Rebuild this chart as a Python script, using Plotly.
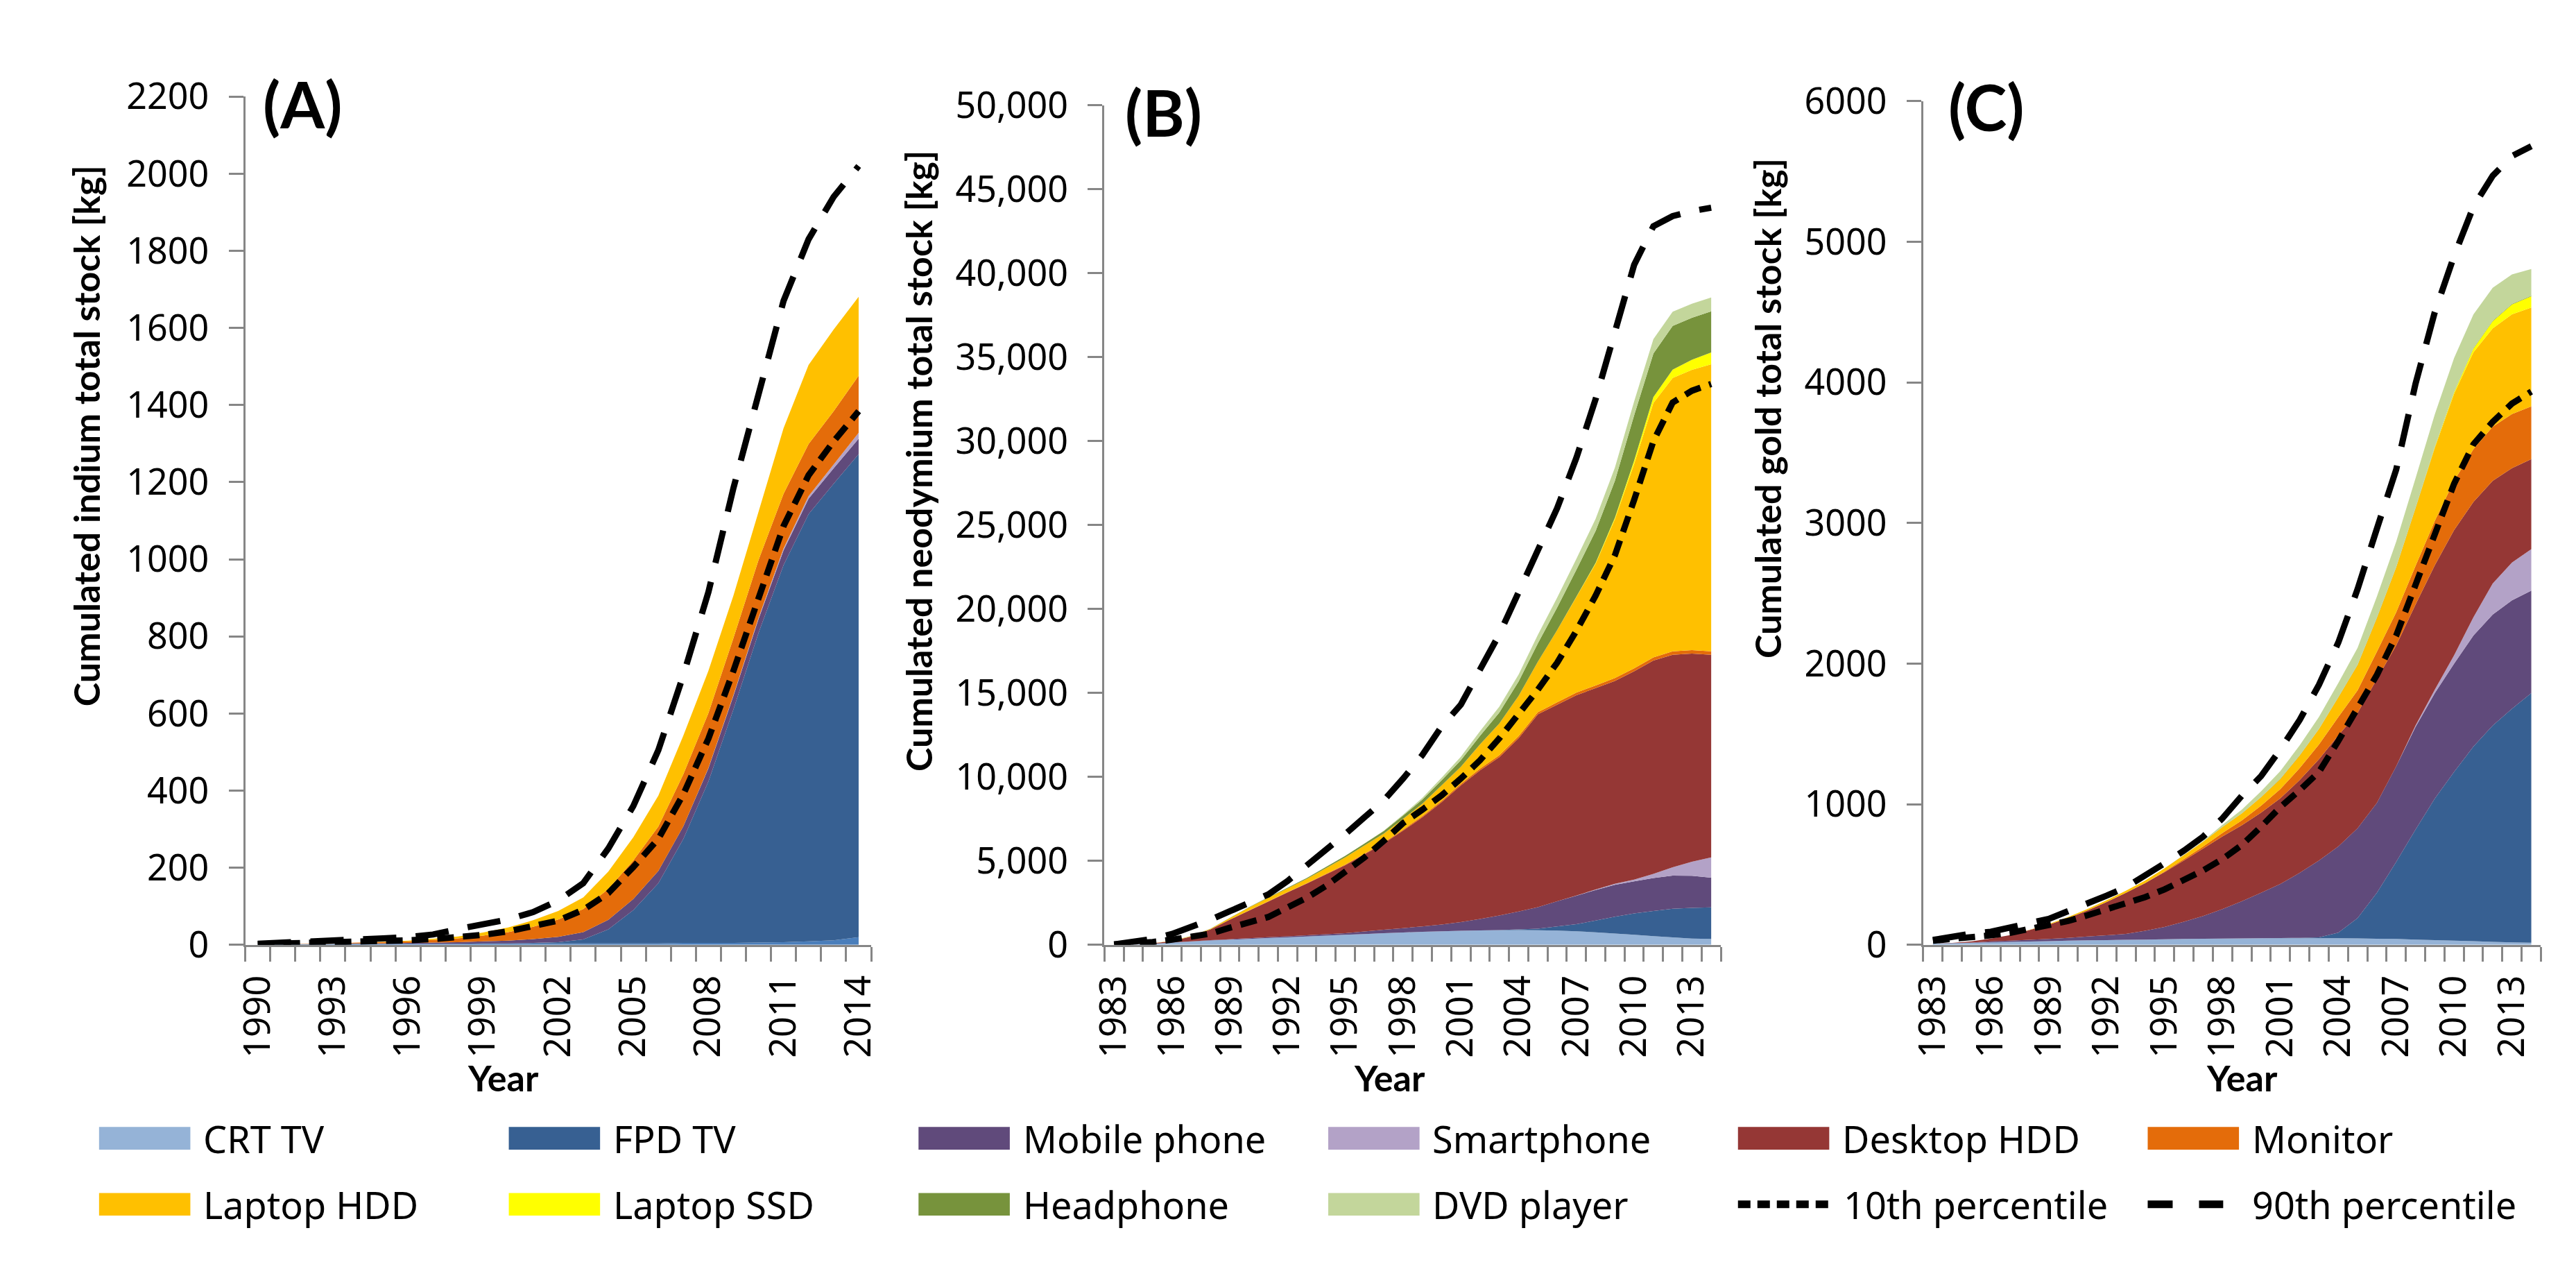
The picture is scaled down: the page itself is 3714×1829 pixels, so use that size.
import plotly.graph_objects as go
from plotly.subplots import make_subplots

# ---------------- data ----------------
years_in = list(range(1990, 2015))
years_nd = list(range(1983, 2015))
years_au = list(range(1983, 2015))

categories = ["CRT TV", "FPD TV", "Mobile phone", "Smartphone", "Desktop HDD",
              "Monitor", "Laptop HDD", "Laptop SSD", "Headphone", "DVD player"]
colors = ["#95B3D7", "#376092", "#604A7B", "#B3A2C7", "#953735",
          "#E46C0A", "#FFC000", "#FFFF00", "#77933C", "#C3D69B"]
percentiles = ["10th percentile", "90th percentile"]

# (A) indium [kg], 1990-2014
indium_crt = [2, 2, 2, 3, 3, 3, 3, 3, 3, 4, 4, 4, 4, 4, 4, 4, 4, 5, 5, 5, 6, 7, 9, 12, 20]
indium_fpd = [0, 0, 0, 0, 0, 0, 0, 0, 0, 0, 0, 1, 3, 10, 36, 86, 156, 270, 419, 606, 803, 978, 1108, 1184, 1253]
indium_mobile = [0, 0, 0, 0, 1, 1, 2, 3, 4, 5, 7, 10, 14, 19, 25, 29, 32, 33, 34, 35, 36, 38, 40, 40, 40]
indium_smart = [0, 0, 0, 0, 0, 0, 0, 0, 0, 0, 0, 0, 0, 0, 0, 0, 0, 0, 1, 2, 3, 5, 7, 10, 15]
indium_monitor = [0, 0, 1, 1, 2, 3, 4, 7, 10, 15, 22, 32, 45, 60, 80, 100, 115, 135, 142, 148, 150, 142, 135, 138, 148]
indium_laptop_hdd = [0, 0, 0, 0, 0, 1, 2, 3, 5, 8, 12, 17, 22, 30, 45, 60, 80, 100, 110, 110, 125, 170, 205, 212, 205]
indium_p10 = [2, 3, 4, 5, 7, 9, 12, 15, 20, 26, 35, 48, 63, 91, 134, 202, 275, 391, 535, 711, 899, 1086, 1218, 1306, 1384]
indium_p90 = [3, 5, 7, 10, 14, 17, 20, 27, 41, 55, 66, 85, 115, 160, 250, 360, 505, 700, 915, 1185, 1420, 1670, 1830, 1940, 2020]

# (B) neodymium [kg], 1983-2014
nd_crt = [0, 20, 60, 140, 200, 260, 310, 360, 410, 450, 500, 550, 600, 650, 700, 740,
          780, 810, 840, 860, 875, 880, 870, 850, 810, 750, 680, 600, 520, 450, 380, 355]
nd_fpd = [0, 0, 0, 0, 0, 0, 0, 0, 0, 0, 0, 0, 0, 0, 0, 0,
          0, 0, 0, 0, 10, 40, 100, 250, 420, 700, 1000, 1270, 1500, 1700, 1820, 1880]
nd_mobile = [0, 0, 5, 10, 15, 20, 30, 40, 50, 60, 70, 85, 100, 150, 200, 260,
             320, 400, 520, 680, 860, 1065, 1280, 1500, 1700, 1820, 1900, 1920, 1960, 1975, 1920, 1770]
nd_smart = [0, 0, 0, 0, 0, 0, 0, 0, 0, 0, 0, 0, 0, 0, 0, 0,
            0, 0, 0, 0, 0, 0, 0, 0, 10, 30, 60, 100, 250, 500, 830, 1210]
nd_desktop = [0, 10, 35, 70, 285, 640, 1160, 1640, 2120, 2610, 3080, 3565, 4050, 4600, 5150, 5800,
              6500, 7290, 8140, 8860, 9435, 10325, 11480, 11700, 11930, 11990, 12080, 12400, 12700, 12655, 12400, 12065]
nd_monitor = [0, 0, 0, 0, 0, 0, 0, 10, 15, 20, 25, 30, 35, 40, 50, 60,
              70, 80, 90, 100, 110, 120, 130, 140, 150, 160, 170, 180, 190, 200, 200, 200]
nd_laptop_hdd = [0, 0, 0, 20, 25, 30, 90, 180, 205, 225, 255, 340, 425, 480, 530, 640,
                 730, 920, 1010, 1450, 1900, 2400, 3000, 4300, 5700, 7250, 9450, 12170, 15150, 16280, 16700, 17100]
nd_laptop_ssd = [0, 0, 0, 0, 0, 0, 0, 0, 0, 0, 0, 0, 0, 0, 0, 0,
                 0, 0, 0, 0, 0, 0, 0, 0, 20, 50, 100, 200, 350, 500, 600, 700]
nd_headphone = [0, 0, 0, 0, 5, 10, 15, 20, 30, 40, 55, 70, 90, 120, 150, 200,
                250, 300, 400, 500, 650, 850, 1100, 1350, 1600, 1900, 2200, 2700, 2600, 2600, 2500, 2450]
nd_dvd = [0, 0, 0, 0, 0, 0, 0, 0, 0, 0, 0, 0, 0, 0, 20, 50,
          100, 150, 200, 280, 350, 420, 500, 580, 650, 720, 780, 830, 850, 850, 830, 820]
nd_p10 = [30, 70, 170, 310, 450, 670, 1020, 1300, 1660, 2230, 2800, 3510, 4360, 5210, 6200, 7250,
          8050, 8900, 9900, 11000, 12300, 13700, 15200, 16800, 18700, 20800, 23200, 26500, 30000, 32300, 33000, 33400]
nd_p90 = [30, 150, 350, 650, 1050, 1500, 2000, 2500, 3000, 3800, 4700, 5600, 6600, 7600, 8600, 9900,
          11300, 13000, 14300, 16400, 18500, 21000, 23500, 26000, 29000, 32500, 36500, 40500, 42800, 43400, 43700, 43900]

# (C) gold [kg], 1983-2014
au_crt = [10, 12, 15, 18, 21, 24, 27, 30, 32, 34, 36, 38, 40, 42, 44, 45,
          46, 47, 48, 48, 48, 47, 46, 44, 42, 38, 34, 30, 26, 22, 18, 15]
au_fpd = [0, 0, 0, 0, 0, 0, 0, 0, 0, 0, 0, 0, 0, 0, 0, 0,
          0, 0, 1, 2, 5, 40, 144, 326, 548, 782, 1006, 1200, 1384, 1538, 1662, 1775]
au_mobile = [0, 1, 2, 7, 9, 12, 15, 20, 28, 34, 42, 62, 87, 123, 161, 210,
             264, 323, 384, 462, 547, 613, 640, 640, 680, 730, 750, 770, 790, 790, 770, 730]
au_smart = [0, 0, 0, 0, 0, 0, 0, 0, 0, 0, 0, 0, 0, 0, 0, 0,
            0, 0, 0, 0, 0, 0, 0, 0, 0, 10, 25, 60, 130, 220, 270, 294]
au_desktop = [0, 1, 8, 20, 40, 69, 102, 140, 185, 237, 292, 340, 390, 435, 480, 516,
              540, 570, 610, 660, 720, 790, 820, 880, 860, 860, 885, 890, 820, 730, 670, 641]
au_monitor = [0, 0, 0, 0, 0, 0, 0, 0, 0, 0, 0, 0, 5, 10, 15, 25,
              35, 50, 65, 85, 105, 130, 160, 195, 235, 275, 315, 350, 375, 385, 385, 375]
au_laptop_hdd = [0, 0, 0, 0, 0, 2, 5, 8, 10, 12, 15, 18, 22, 28, 34, 42,
                 50, 60, 72, 90, 110, 140, 180, 240, 320, 410, 520, 620, 690, 700, 710, 703]
au_laptop_ssd = [0, 0, 0, 0, 0, 0, 0, 0, 0, 0, 0, 0, 0, 0, 0, 0,
                 0, 0, 0, 0, 0, 0, 0, 0, 0, 0, 5, 10, 25, 50, 70, 80]
au_headphone = [0, 0, 0, 0, 0, 0, 0, 0, 0, 0, 0, 0, 1, 1, 1, 1,
                1, 2, 2, 2, 2, 2, 3, 3, 3, 3, 3, 4, 4, 4, 4, 4]
au_dvd = [0, 0, 0, 0, 0, 0, 0, 0, 0, 0, 0, 0, 0, 0, 5, 15,
          25, 40, 55, 70, 85, 100, 120, 150, 180, 210, 230, 240, 240, 235, 210, 190]
au_p10 = [30, 40, 55, 68, 85, 110, 140, 170, 210, 250, 290, 340, 395, 460, 530, 610,
          710, 840, 980, 1100, 1230, 1450, 1680, 1920, 2200, 2550, 2900, 3280, 3560, 3720, 3850, 3935]
au_p90 = [35, 60, 80, 93, 120, 150, 185, 240, 290, 350, 410, 490, 580, 670, 770, 900,
          1060, 1200, 1390, 1600, 1850, 2150, 2530, 2960, 3380, 3990, 4500, 4900, 5250, 5470, 5610, 5680]

# ---------------- layout constants ----------------
FIG_W, FIG_H = 3714, 1829
GREY = "#868686"
TICK_FONT = dict(family="Noto Sans", size=52, color="black")
BOLD_FONT = "Lato"
P10_DASH = "24px,13px"
P90_DASH = "48px,28px"

panels = [
    dict(
        years=years_in,
        stacks=[indium_crt, indium_fpd, indium_mobile, indium_smart, None,
                indium_monitor, indium_laptop_hdd, None, None, None],
        p10=indium_p10, p90=indium_p90,
        ymax=2200, dtick=200, tickformat="d",
        xdomain=[324 / FIG_W, 1236 / FIG_W], ytop=97,
        title="Cumulated indium total stock [kg]", title_x=92, title_y=1320,
        letter="(A)", letter_x=348, letter_y=108, year_x=1999.8,
    ),
    dict(
        years=years_nd,
        stacks=[nd_crt, nd_fpd, nd_mobile, nd_smart, nd_desktop,
                nd_monitor, nd_laptop_hdd, nd_laptop_ssd, nd_headphone, nd_dvd],
        p10=nd_p10, p90=nd_p90,
        ymax=50000, dtick=5000, tickformat=",d",
        xdomain=[1576 / FIG_W, 2474 / FIG_W], ytop=110,
        title="Cumulated neodymium total stock [kg]", title_x=1305, title_y=28800,
        letter="(B)", letter_x=1604, letter_y=120, year_x=1997.3,
    ),
    dict(
        years=years_au,
        stacks=[au_crt, au_fpd, au_mobile, au_smart, au_desktop,
                au_monitor, au_laptop_hdd, au_laptop_ssd, au_headphone, au_dvd],
        p10=au_p10, p90=au_p90,
        ymax=6000, dtick=1000, tickformat="d",
        xdomain=[2769 / FIG_W, 3669 / FIG_W], ytop=104,
        title="Cumulated gold total stock [kg]", title_x=2541, title_y=3815,
        letter="(C)", letter_x=2803, letter_y=112, year_x=1999,
    ),
]

fig = make_subplots(rows=1, cols=3)

for k, panel in enumerate(panels):
    col = k + 1
    years = panel["years"]
    for ix, values in enumerate(panel["stacks"]):
        if values is None:
            continue
        color = colors[ix]
        # the bottom band of (A) is drawn in a mid blue in the original
        if k == 0 and ix == 0:
            color = "#4A7EBB"
        fig.add_trace(
            go.Scatter(
                x=years, y=values, name=categories[ix],
                stackgroup=f"stock{k}", mode="none", fillcolor=color,
            ),
            row=1, col=col,
        )
    fig.add_trace(
        go.Scatter(x=years, y=panel["p10"], name=percentiles[0], mode="lines",
                   line=dict(color="black", width=9, dash=P10_DASH)),
        row=1, col=col,
    )
    fig.add_trace(
        go.Scatter(x=years, y=panel["p90"], name=percentiles[1], mode="lines",
                   line=dict(color="black", width=9, dash=P90_DASH)),
        row=1, col=col,
    )

    fig.update_xaxes(
        domain=panel["xdomain"],
        range=[years[0] - 0.5, years[-1] + 0.5],
        tickmode="linear", tick0=years[0], dtick=3, tickformat="d",
        ticks="", tickangle=-90, ticklabelstandoff=20,
        tickfont=TICK_FONT,
        showline=True, linecolor=GREY, linewidth=3,
        showgrid=False, zeroline=False,
        minor=dict(tickmode="linear", tick0=years[0] - 0.5, dtick=1,
                   ticks="outside", ticklen=21, tickwidth=3, tickcolor=GREY,
                   showgrid=False),
        row=1, col=col,
    )
    fig.update_yaxes(
        domain=[1 - 1369 / FIG_H, 1 - panel["ytop"] / FIG_H],
        range=[0, panel["ymax"]], tickmode="linear", tick0=0, dtick=panel["dtick"],
        tickformat=panel["tickformat"],
        ticks="outside", ticklen=21, tickwidth=3, tickcolor=GREY,
        ticklabelstandoff=18, tickfont=TICK_FONT,
        showline=True, linecolor=GREY, linewidth=3,
        showgrid=False, zeroline=False,
        row=1, col=col,
    )

    yref = "y" if k == 0 else f"y{col}"
    xref = "x" if k == 0 else f"x{col}"
    fig.add_annotation(
        text=panel["title"], textangle=-90, showarrow=False,
        xref="paper", yref=yref, x=panel["title_x"] / FIG_W, y=panel["title_y"],
        xanchor="center", yanchor="middle",
        font=dict(family=BOLD_FONT, size=52, color="black", weight="bold"),
    )
    fig.add_annotation(
        text=panel["letter"], showarrow=False,
        xref="paper", yref="paper",
        x=panel["letter_x"] / FIG_W, y=1 - panel["letter_y"] / FIG_H,
        xanchor="left", yanchor="middle",
        font=dict(family=BOLD_FONT, size=92, color="black", weight="bold"),
    )
    fig.add_annotation(
        text="Year", showarrow=False,
        xref=xref, yref="paper", x=panel["year_x"], y=1 - 1568 / FIG_H,
        xanchor="center", yanchor="middle",
        font=dict(family=BOLD_FONT, size=52, color="black", weight="bold"),
    )

# ---------------- legend: 2 rows x 6 columns below the panels ----------------
legend_items = [(name, color, None) for name, color in zip(categories, colors)]
legend_items += [(percentiles[0], "black", "18px,10px"), (percentiles[1], "black", "36px,38px")]
col_left = [111 + 597 * c for c in range(6)]
row_mid = [1659, 1758]
for i, (name, color, dash) in enumerate(legend_items):
    left = col_left[i % 6]
    mid = row_mid[i // 6]
    if dash is None:
        fig.add_shape(
            type="rect", xref="paper", yref="paper",
            x0=left / FIG_W, x1=(left + 133) / FIG_W,
            y0=1 - (mid + 17) / FIG_H, y1=1 - (mid - 17) / FIG_H,
            fillcolor=color, line=dict(width=0),
        )
        text_left = left + 150
    else:
        length = 136 if i == 10 else 110
        fig.add_shape(
            type="line", xref="paper", yref="paper",
            x0=left / FIG_W, x1=(left + length) / FIG_W,
            y0=1 - mid / FIG_H, y1=1 - mid / FIG_H,
            line=dict(color="black", width=11, dash=dash),
        )
        text_left = left + 152 if i == 10 else left + 150
    fig.add_annotation(
        text=name, showarrow=False, xref="paper", yref="paper",
        x=text_left / FIG_W, y=1 - mid / FIG_H, xanchor="left", yanchor="middle",
        font=dict(family="Noto Sans", size=54, color="black"),
    )

fig.update_layout(
    width=FIG_W, height=FIG_H,
    margin=dict(l=0, r=0, t=0, b=0),
    paper_bgcolor="white", plot_bgcolor="white",
    showlegend=False,
)

fig.write_html("out.html")
